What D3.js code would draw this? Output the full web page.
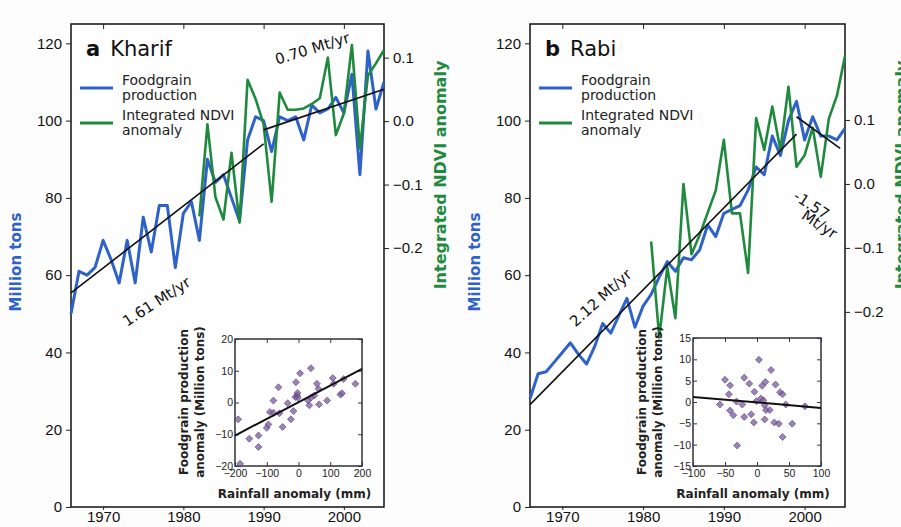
<!DOCTYPE html>
<html>
<head>
<meta charset="utf-8">
<script src="https://cdn.jsdelivr.net/npm/d3@7/dist/d3.min.js"></script>
<style>
  body { margin: 0; background: #fdfdfd; }
  svg { display: block; font-family: "DejaVu Sans", sans-serif; }
</style>
</head>
<body>
<svg id="chart" width="901" height="527"></svg>
<script>
// ---- data ----
const years = [1966, 1967, 1968, 1969, 1970, 1971, 1972, 1973, 1974, 1975,
               1976, 1977, 1978, 1979, 1980, 1981, 1982, 1983, 1984, 1985,
               1986, 1987, 1988, 1989, 1990, 1991, 1992, 1993, 1994, 1995,
               1996, 1997, 1998, 1999, 2000, 2001, 2002, 2003, 2004, 2005];

// Kharif foodgrain production (Mt)
const kharifProd = [50, 61, 60, 62, 69, 64, 58, 69, 58, 75,
                    66, 78, 78, 62, 76, 79, 69, 90, 84, 86,
                    80, 74, 95, 101, 100, 92, 101, 100, 101, 95,
                    104, 102, 103, 106, 102, 112, 86, 118, 103, 110];
// Kharif integrated NDVI anomaly (from 1982)
const kharifNdvi = [null, null, null, null, null, null, null, null, null, null,
                    null, null, null, null, null, null, -0.15, -0.005, -0.12, -0.155,
                    -0.05, -0.16, 0.065, 0.035, -0.005, -0.127, 0.045, 0.018, 0.018, 0.02,
                    0.027, 0.036, 0.1, -0.022, 0.012, 0.12, -0.043, 0.072, 0.091, 0.112];

// Rabi foodgrain production (Mt)
const rabiProd = [28, 34.5, 35, 37.5, 40, 42.5, 39.5, 37, 41.5, 47.5,
                  45, 49.5, 54, 46.5, 52, 55, 59.5, 63.5, 61, 64.5,
                  64, 66.5, 73, 70, 76, 77, 78, 82, 88, 86,
                  96, 91, 100, 105, 95, 101, 96, 96, 95, 98];
// Rabi integrated NDVI anomaly (from 1981)
const rabiNdvi = [null, null, null, null, null, null, null, null, null, null,
                  null, null, null, null, null, -0.09, -0.24, -0.13, -0.21, 0.0,
                  -0.11, -0.08, -0.045, -0.01, 0.069, -0.046, -0.046, -0.139, 0.103, 0.053,
                  0.121, 0.053, 0.152, 0.027, 0.045, 0.088, 0.011, 0.102, 0.138, 0.2];

// piecewise linear trends [year, Mt]
const kharifTrend1 = [[1966, 55.4], [1990, 94.0]];
const kharifTrend2 = [[1990, 97.6], [2005, 108.1]];
const rabiTrend1 = [[1966, 26.5], [1999, 96.5]];
const rabiTrend2 = [[1999, 101.0], [2004.4, 92.8]];

// inset scatter: rainfall anomaly (mm) vs production anomaly (Mt)
const kharifRain = [-190, -184, -155, -126, -126, -100, -95, -90, -79, -79, -63, -60,
                    -50, -34, -24, -16, -10, -8, -5, -2, 5, 30, 34, 39, 50, 58, 63, 65,
                    90, 108, 111, 132, 137, 142, 179, -3, 40];
const kharifAnom = [-5.3, -19.3, -11.4, -10.4, -14, -8, -6.9, -3, 0.6, -3.2, 4.8, -3.4,
                    -7.7, -0.2, -5.3, -2.7, 1.7, 6.4, 2.2, 1.5, 9.2, 0.6, -0.9, 10.8, 2.2, 5.9, 4.3, -0.6,
                    0.6, 7.7, 5.9, 2.5, 2.9, 7.4, 5.9, 3.0, 1.6];
const kharifFit = [[-200, -10.4], [200, 10.6]];

const rabiRain = [-58, -50, -42, -44, -42, -37, -31, -20, -23, -20, -12, -9,
                  -5, -4, -1, 3, 6, 8, 10, 12, 12, 13, 14, 20, 22, 29, 27, 34,
                  36, 40, 40, 45, 55, 75, -32];
const rabiAnom = [-0.6, 5.2, 3.9, 1.8, -2, -3.1, -10.2, 5.7, -0.6, -3.5, 4.3, -2.9,
                  -4.8, 2.4, 0.2, 9.9, 0.8, 3.8, 0.4, -0.8, -4.1, 4.7, -1.9, -1.9, 7.5, 4.1, -4.8, -5.1,
                  2.3, 1.8, -8.2, -0.6, -5.1, -1.0, 0.1];
const rabiFit = [[-100, 1.2], [100, -1.4]];

const yTicks = [0, 20, 40, 60, 80, 100, 120];
const xTicks = [1970, 1980, 1990, 2000];
const ndviTicks = [-0.2, -0.1, 0.0, 0.1];

const BLUE = "#2f62c9", GREEN = "#1f8a3d", PURPLE = "#7b5a9e";
const svg = d3.select("#chart");
const minus = s => String(s).replace("-", "\u2212");

function drawPanel(p) {
  const g = svg.append("g");
  const x = d3.scaleLinear().domain([1966, 2005]).range([p.left, p.left + p.width]);
  const y = d3.scaleLinear().domain([0, 125]).range([507, 24]);
  const yr = d3.scaleLinear().domain(p.ndviDomain).range([507, 24]);

  // frame
  g.append("rect").attr("x", p.left).attr("y", 24).attr("width", p.width).attr("height", 483)
    .attr("fill", "#fefefe").attr("stroke", "#111").attr("stroke-width", 1.5);

  // axes
  const left = g.append("g").attr("transform", `translate(${p.left},0)`)
    .call(d3.axisLeft(y).tickValues(yTicks).tickSize(5).tickPadding(4));
  const bottom = g.append("g").attr("transform", "translate(0,507)")
    .call(d3.axisBottom(x).tickValues(xTicks).tickFormat(d3.format("d")).tickSize(3).tickPadding(1));
  const top = g.append("g").attr("transform", "translate(0,24)")
    .call(d3.axisTop(x).tickValues(xTicks).tickFormat("").tickSize(-5));
  const right = g.append("g").attr("transform", `translate(${p.left + p.width},0)`)
    .call(d3.axisRight(yr).tickValues(ndviTicks).tickFormat(d => minus(d3.format(".1f")(d))).tickSize(5).tickPadding(4));
  [left, bottom, top, right].forEach(a => {
    a.select(".domain").remove();
    a.selectAll("text").attr("font-size", 15).attr("fill", "#111");
    a.selectAll("line").attr("stroke", "#222");
  });

  // axis titles
  g.append("text").attr("transform", `translate(${p.left - 50},262) rotate(-90)`)
    .attr("text-anchor", "middle").attr("font-size", 15).attr("font-weight", "bold")
    .attr("fill", BLUE).text("Million tons");
  g.append("text").attr("transform", `translate(${p.left + p.width + 62},175) rotate(-90)`)
    .attr("text-anchor", "middle").attr("font-size", 16).attr("font-weight", "bold")
    .attr("fill", GREEN).text("Integrated NDVI anomaly");

  // series
  const lineP = d3.line().x((d, i) => x(years[i])).y(d => y(d));
  const lineN = d3.line().defined(d => d != null).x((d, i) => x(years[i])).y(d => yr(d));
  g.append("path").datum(p.prod).attr("d", lineP).attr("fill", "none")
    .attr("stroke", BLUE).attr("stroke-width", 3).attr("stroke-linejoin", "round");
  g.append("path").datum(p.ndvi).attr("d", lineN).attr("fill", "none")
    .attr("stroke", GREEN).attr("stroke-width", 2.6).attr("stroke-linejoin", "round");

  const lineT = d3.line().x(d => x(d[0])).y(d => y(d[1]));
  p.trends.forEach(t => g.append("path").datum(t).attr("d", lineT)
    .attr("fill", "none").attr("stroke", "#111").attr("stroke-width", 1.6));

  p.notes.forEach(n => g.append("text")
    .attr("transform", `translate(${x(n.at[0])},${y(n.at[1])}) rotate(${n.rot})`)
    .attr("text-anchor", "middle").attr("dominant-baseline", "middle")
    .attr("font-size", 15).attr("fill", "#111").text(n.text));

  // title
  const t = g.append("text").attr("x", p.left + 15).attr("y", 56).attr("font-size", 21).attr("fill", "#111");
  t.append("tspan").attr("font-weight", "bold").text(p.letter);
  t.append("tspan").attr("dx", 10).text(p.name);

  // legend
  const lg = g.append("g").attr("transform", `translate(${p.left + 9},0)`);
  [[BLUE, 88, "Foodgrain", "production"], [GREEN, 123, "Integrated NDVI", "anomaly"]].forEach(([c, ly, a, b]) => {
    lg.append("line").attr("x1", 0).attr("x2", 33).attr("y1", ly).attr("y2", ly)
      .attr("stroke", c).attr("stroke-width", 3);
    lg.append("text").attr("x", 42).attr("y", ly - 3).attr("font-size", 14).attr("fill", "#222").text(a);
    lg.append("text").attr("x", 42).attr("y", ly + 12).attr("font-size", 14).attr("fill", "#222").text(b);
  });

  // inset
  const ins = p.inset;
  const ix = d3.scaleLinear().domain(ins.xDomain).range([ins.left, ins.left + ins.size]);
  const iy = d3.scaleLinear().domain(ins.yDomain).range([466, 466 - ins.size]);
  const ig = g.append("g");
  ig.append("rect").attr("x", ins.left).attr("y", 466 - ins.size).attr("width", ins.size).attr("height", ins.size)
    .attr("fill", "#fff").attr("stroke", "#111").attr("stroke-width", 1.3);
  const ia = [
    ig.append("g").attr("transform", `translate(${ins.left},0)`)
      .call(d3.axisLeft(iy).tickValues(ins.yTicks).tickSize(-4).tickPadding(2).tickFormat(d => minus(d))),
    ig.append("g").attr("transform", `translate(${ins.left + ins.size},0)`)
      .call(d3.axisRight(iy).tickValues(ins.yTicks).tickSize(-4).tickFormat("")),
    ig.append("g").attr("transform", "translate(0,466)")
      .call(d3.axisBottom(ix).tickValues(ins.xTicks).tickSize(-4).tickPadding(4).tickFormat(d => minus(d))),
    ig.append("g").attr("transform", `translate(0,${466 - ins.size})`)
      .call(d3.axisTop(ix).tickValues(ins.xTicks).tickSize(-4).tickFormat(""))
  ];
  ia.forEach(a => {
    a.select(".domain").remove();
    a.selectAll("text").attr("font-size", 10.5).attr("fill", "#222");
    a.selectAll("line").attr("stroke", "#335");
  });
  const diamond = d3.symbol().type(d3.symbolSquare).size(24);
  ig.selectAll("path.pt").data(ins.rain).join("path").attr("class", "pt")
    .attr("d", diamond)
    .attr("transform", (d, i) => `translate(${ix(d)},${iy(ins.anom[i])}) rotate(45)`)
    .attr("fill", PURPLE).attr("fill-opacity", 0.75).attr("stroke", "#5a3f80").attr("stroke-width", 0.6);
  ig.append("path").datum(ins.fit).attr("d", d3.line().x(d => ix(d[0])).y(d => iy(d[1])))
    .attr("stroke", "#111").attr("stroke-width", 2).attr("fill", "none");
  ig.append("text").attr("x", ins.left + ins.size / 2 - 4).attr("y", 498)
    .attr("text-anchor", "middle").attr("font-size", 12).attr("font-weight", "bold").attr("fill", "#222")
    .text("Rainfall anomaly (mm)");
  const yl = ig.append("text").attr("transform", `translate(${ins.left - 47},402) rotate(-90)`)
    .attr("text-anchor", "middle").attr("font-size", 12).attr("font-weight", "bold").attr("fill", "#222");
  yl.append("tspan").attr("x", 0).attr("dy", 0).text("Foodgrain production");
  yl.append("tspan").attr("x", 0).attr("dy", 16).text("anomaly (Million tons)");
}

drawPanel({
  left: 71, width: 313, letter: "a", name: "Kharif",
  prod: kharifProd, ndvi: kharifNdvi, ndviDomain: [-0.608, 0.153],
  trends: [kharifTrend1, kharifTrend2],
  notes: [{ text: "1.61 Mt/yr", at: [1976.7, 53], rot: -33 },
          { text: "0.70 Mt/yr", at: [1996.1, 118.5], rot: -17 }],
  inset: { left: 235, size: 127, xDomain: [-200, 200], yDomain: [-20, 20],
           xTicks: [-200, -100, 0, 100, 200], yTicks: [-20, -10, 0, 10, 20],
           rain: kharifRain, anom: kharifAnom, fit: kharifFit }
});

drawPanel({
  left: 530, width: 315, letter: "b", name: "Rabi",
  prod: rabiProd, ndvi: rabiNdvi, ndviDomain: [-0.505, 0.25],
  trends: [rabiTrend1, rabiTrend2],
  notes: [{ text: "2.12 Mt/yr", at: [1974.8, 54], rot: -42 },
          { text: "-1.57", at: [2000.8, 78], rot: 33 },
          { text: "Mt/yr", at: [2001.8, 73], rot: 33 }],
  inset: { left: 693, size: 128, xDomain: [-100, 100], yDomain: [-15, 15],
           xTicks: [-100, -50, 0, 50, 100], yTicks: [-15, -10, -5, 0, 5, 10, 15],
           rain: rabiRain, anom: rabiAnom, fit: rabiFit }
});
</script>
</body>
</html>
